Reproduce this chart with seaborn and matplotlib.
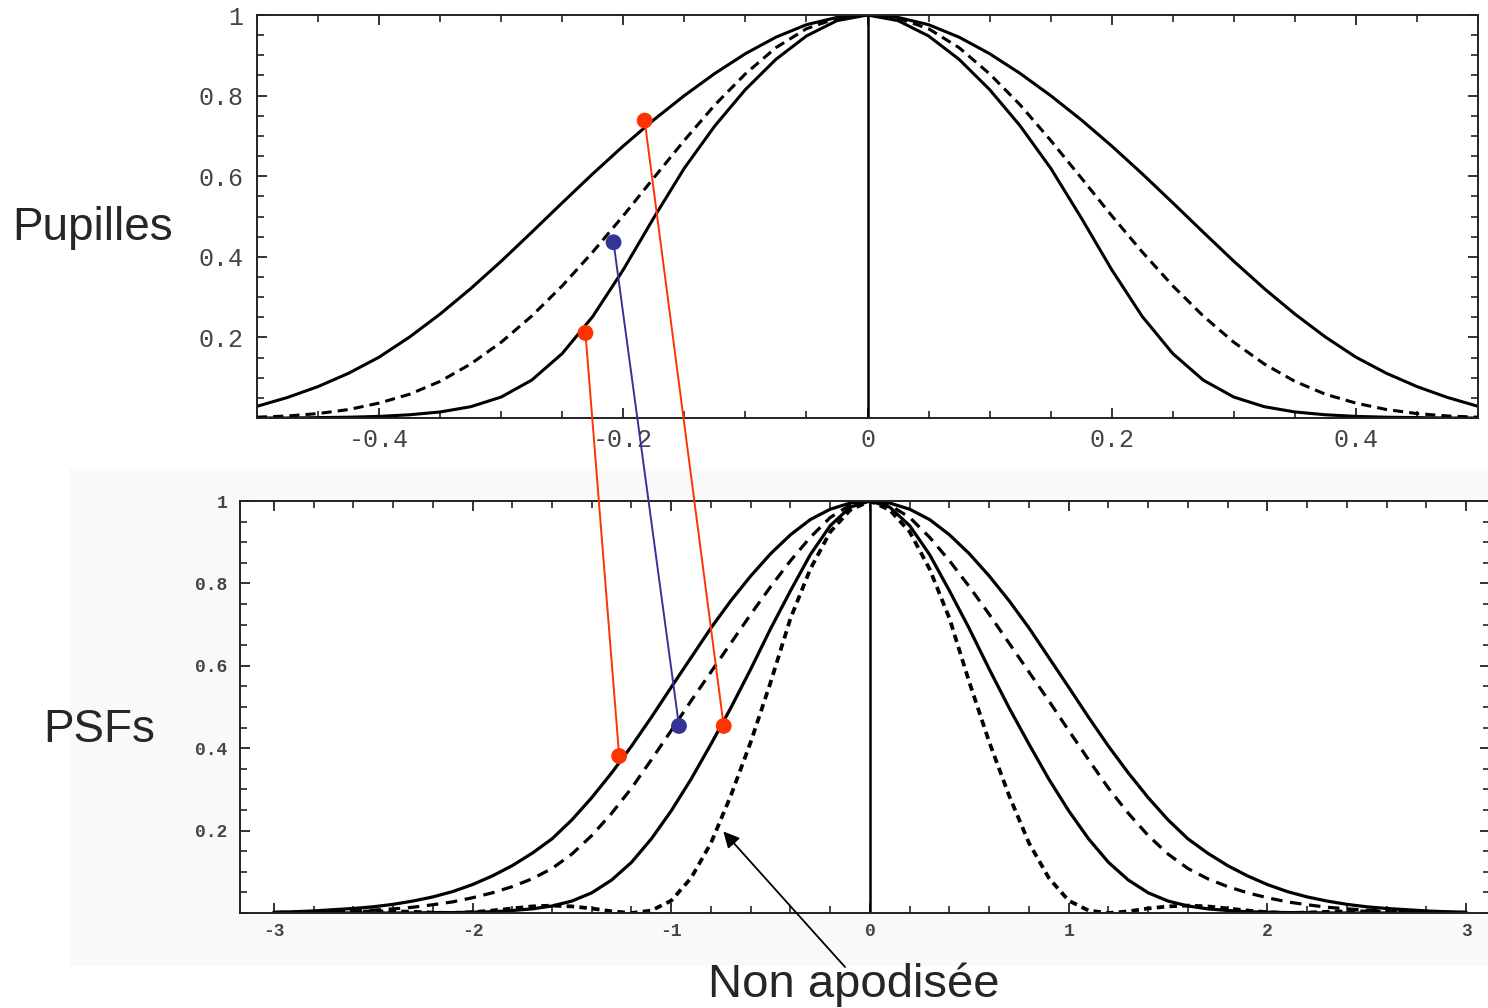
import matplotlib
matplotlib.use("Agg")
import matplotlib.pyplot as plt
from matplotlib.patches import ConnectionPatch, Rectangle
from matplotlib.ticker import MultipleLocator, FixedLocator, FixedFormatter
import seaborn as sns

# pupil profiles, read on the positive half (the curves are symmetric)
pupil_r = [0.0, 0.025, 0.05, 0.075, 0.1, 0.125, 0.15, 0.175, 0.2, 0.225, 0.25,
           0.275, 0.3, 0.325, 0.35, 0.375, 0.4, 0.425, 0.45, 0.475, 0.5]
pupil_wide = [1.000, 0.994, 0.976, 0.945, 0.904, 0.855, 0.800, 0.740, 0.675, 0.606, 0.534,
              0.461, 0.389, 0.321, 0.258, 0.201, 0.151, 0.111, 0.078, 0.051, 0.029]
pupil_mid = [1.000, 0.992, 0.966, 0.919, 0.854, 0.777, 0.689, 0.596, 0.502, 0.412, 0.328,
             0.253, 0.188, 0.134, 0.091, 0.059, 0.037, 0.021, 0.011, 0.005, 0.002]
pupil_narrow = [1.000, 0.986, 0.948, 0.890, 0.815, 0.725, 0.620, 0.497, 0.368, 0.252, 0.160,
                0.094, 0.052, 0.028, 0.015, 0.008, 0.004, 0.002, 0.001, 0.000, 0.000]

# PSFs, same idea
psf_r = [0.0, 0.1, 0.2, 0.3, 0.4, 0.5, 0.6, 0.7, 0.8, 0.9, 1.0, 1.1, 1.2, 1.3, 1.4, 1.5,
         1.6, 1.7, 1.8, 1.9, 2.0, 2.1, 2.2, 2.3, 2.4, 2.5, 2.6, 2.7, 2.8, 2.9, 3.0]
psf_wide = [1.000, 0.995, 0.980, 0.955, 0.918, 0.872, 0.818, 0.758, 0.692, 0.620, 0.548,
            0.475, 0.405, 0.340, 0.280, 0.226, 0.180, 0.145, 0.115, 0.090, 0.069, 0.052,
            0.039, 0.029, 0.021, 0.015, 0.011, 0.008, 0.005, 0.003, 0.002]
psf_mid = [1.000, 0.990, 0.960, 0.912, 0.855, 0.792, 0.725, 0.655, 0.585, 0.515, 0.443,
           0.372, 0.303, 0.242, 0.188, 0.143, 0.108, 0.083, 0.064, 0.049, 0.037, 0.027,
           0.020, 0.014, 0.010, 0.007, 0.005, 0.004, 0.003, 0.002, 0.001]
psf_narrow = [1.000, 0.985, 0.940, 0.870, 0.782, 0.690, 0.592, 0.498, 0.410, 0.325, 0.248,
              0.180, 0.123, 0.080, 0.049, 0.029, 0.017, 0.010, 0.006, 0.003, 0.002, 0.001,
              0.001, 0.000, 0.000, 0.000, 0.000, 0.000, 0.000, 0.000, 0.000]
psf_plain = [1.000, 0.978, 0.925, 0.835, 0.715, 0.560, 0.415, 0.285, 0.170, 0.085, 0.030,
             0.006, 0.000, 0.004, 0.011, 0.016, 0.018, 0.016, 0.011, 0.006, 0.002, 0.000,
             0.001, 0.003, 0.004, 0.004, 0.003, 0.002, 0.001, 0.000, 0.000]

# points joined between the two panels
pupil_pts_x = [-0.1825, -0.231, -0.208]
pupil_pts_y = [0.738, 0.211, 0.436]
psf_pts_x = [-0.736, -1.262, -0.961]
psf_pts_y = [0.454, 0.381, 0.454]
link_colors = ["#ff3300", "#ff3300", "#333399"]

top_xticks = [-0.4, -0.2, 0, 0.2, 0.4]
top_xticklabels = ["-0.4", "-0.2", "0", "0.2", "0.4"]
top_yticks = [0.2, 0.4, 0.6, 0.8, 1.0]
top_yticklabels = ["0.2", "0.4", "0.6", "0.8", "1"]
bot_xticks = [-3, -2, -1, 0, 1, 2, 3]
bot_xticklabels = ["-3", "-2", "-1", "0", "1", "2", "3"]
bot_yticks = [0.2, 0.4, 0.6, 0.8, 1.0]
bot_yticklabels = ["0.2", "0.4", "0.6", "0.8", "1"]


def mirror(r, v):
    x = [-a for a in r[::-1]] + r[1:]
    y = v[::-1] + v[1:]
    return x, y


sns.set_style("ticks")
plt.rcParams["font.family"] = ["Liberation Sans", "DejaVu Sans"]

fig = plt.figure(figsize=(14.88, 10.08), dpi=100)
W, H = 1488.0, 1008.0

# faint grey backdrop behind the PSF panel
fig.patches.append(Rectangle((70 / W, 1 - 964 / H), 1.0, 495 / H, transform=fig.transFigure,
                             color="#f9f9f9", zorder=-5))

ax1 = fig.add_axes([257 / W, 1 - 418 / H, 1221 / W, 403 / H])
ax2 = fig.add_axes([240 / W, 1 - 913 / H, 1250 / W, 412 / H])

solid = "-"
dash = (0, (3.3, 2.0))
dash2 = (0, (3.6, 2.4))
dots = (0, (2.0, 1.4))

for vals, ls in [(pupil_wide, solid), (pupil_mid, dash), (pupil_narrow, solid)]:
    x, y = mirror(pupil_r, vals)
    sns.lineplot(x=x, y=y, ax=ax1, color="black", lw=2.2, linestyle=ls,
                 estimator=None, sort=False)

for vals, ls, w in [(psf_wide, solid, 2.3), (psf_mid, dash2, 2.3),
                    (psf_narrow, solid, 2.3), (psf_plain, dots, 2.7)]:
    x, y = mirror(psf_r, vals)
    sns.lineplot(x=x, y=y, ax=ax2, color="black", lw=w, linestyle=ls,
                 estimator=None, sort=False)

for ax in (ax1, ax2):
    ax.axvline(0, color="black", lw=1.8)
    ax.set_ylim(0, 1)
    ax.set_facecolor("white")
    for s in ax.spines.values():
        s.set_linewidth(1.4)
        s.set_color("#222222")
    ax.tick_params(which="both", direction="in", top=True, right=True, color="#222222")
    ax.tick_params(which="major", length=7, width=1.3)
    ax.tick_params(which="minor", length=5, width=1.2)
    ax.yaxis.set_minor_locator(MultipleLocator(0.05))

ax1.set_xlim(-0.5, 0.5)
ax1.xaxis.set_major_locator(FixedLocator(top_xticks))
ax1.xaxis.set_major_formatter(FixedFormatter(top_xticklabels))
ax1.yaxis.set_major_locator(FixedLocator(top_yticks))
ax1.yaxis.set_major_formatter(FixedFormatter(top_yticklabels))
ax1.xaxis.set_minor_locator(MultipleLocator(0.05))
ax1.tick_params(axis="y", which="major", pad=10, labelsize=18, labelcolor="#444444")
ax1.tick_params(axis="x", which="major", pad=7, labelsize=18, labelcolor="#444444")
for lab in ax1.get_xticklabels() + ax1.get_yticklabels():
    lab.set_family("Liberation Mono")

ax2.set_xlim(-3.17, 3.12)
ax2.xaxis.set_major_locator(FixedLocator(bot_xticks))
ax2.xaxis.set_major_formatter(FixedFormatter(bot_xticklabels))
ax2.yaxis.set_major_locator(FixedLocator(bot_yticks))
ax2.yaxis.set_major_formatter(FixedFormatter(bot_yticklabels))
ax2.xaxis.set_minor_locator(MultipleLocator(0.2))
ax2.tick_params(axis="y", which="major", pad=9, labelsize=13, labelcolor="#444444")
ax2.tick_params(axis="x", which="major", pad=7, labelsize=13, labelcolor="#444444")
for lab in ax2.get_xticklabels() + ax2.get_yticklabels():
    lab.set_family("Liberation Mono")
    lab.set_weight("bold")

# links pupil -> PSF
for px, py, qx, qy, c in zip(pupil_pts_x, pupil_pts_y, psf_pts_x, psf_pts_y, link_colors):
    con = ConnectionPatch(xyA=(px, py), coordsA="data", axesA=ax1,
                          xyB=(qx, qy), coordsB="data", axesB=ax2, color=c, lw=1.4)
    fig.add_artist(con)
ax1.scatter(pupil_pts_x, pupil_pts_y, c=link_colors, s=130, zorder=6, linewidths=0)
ax2.scatter(psf_pts_x, psf_pts_y, c=link_colors, s=130, zorder=6, linewidths=0)

# labels
fig.text(12 / W, 1 - 240 / H, "Pupilles", fontsize=33, ha="left", va="baseline")
fig.text(43 / W, 1 - 742 / H, "PSFs", fontsize=33, ha="left", va="baseline")
fig.text(708 / W, 1 - 997 / H, "Non apodisée", fontsize=34, ha="left", va="baseline")
ax2.annotate("", xy=(-0.738, 0.198), xycoords="data",
             xytext=(845 / W, 1 - 967 / H), textcoords="figure fraction",
             arrowprops=dict(arrowstyle="-|>", color="black", lw=1.3,
                             mutation_scale=24, shrinkA=0, shrinkB=0),
             annotation_clip=False)

fig.savefig("out.png", dpi=100)
